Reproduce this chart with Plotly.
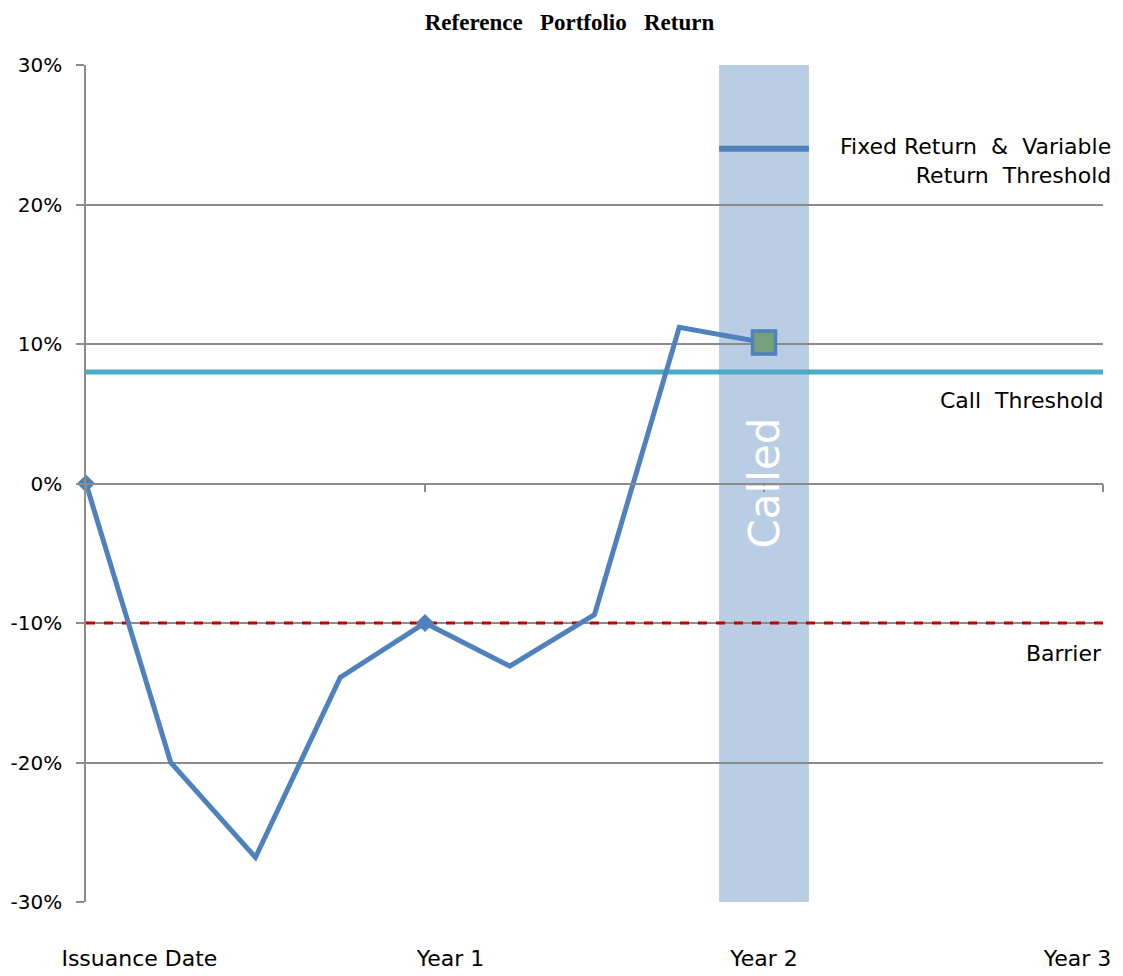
import plotly.graph_objects as go

# ---- data ----
quarters = [0, 1, 2, 3, 4, 5, 6, 7, 8]
portfolio_return = [0.0, -20.0, -26.8, -13.9, -10.0, -13.1, -9.4, 11.2, 10.1]
x_tick_vals = [0, 4, 8, 12]
x_label_pos = [0.63, 4.3, 8.0, 11.7]
x_tick_text = ["Issuance Date", "Year 1", "Year 2", "Year 3"]
y_tick_vals = [-30, -20, -10, 0, 10, 20, 30]
y_tick_text = ["-30%", "-20%", "-10%", "0%", "10%", "20%", "30%"]
call_threshold = 8.0
barrier = -10.0
fixed_return = 24.0
called_band = [7.47, 8.53]
x_range = [0, 12]
y_range = [-30, 30]

FONT = "DejaVu Sans"
FS = 22
GRID = "#8c8c8c"
BLUE = "#4f81bd"

fig = go.Figure()

# called band
fig.add_shape(type="rect", xref="x", yref="y",
              x0=called_band[0], x1=called_band[1], y0=y_range[0], y1=y_range[1],
              fillcolor="#b9cde5", line_width=0, layer="below")

# barrier (dashed red)
fig.add_trace(go.Scatter(x=x_range, y=[barrier, barrier], mode="lines",
                         line=dict(color="#c00000", width=3, dash="dash"),
                         hoverinfo="skip", showlegend=False))
# call threshold
fig.add_trace(go.Scatter(x=x_range, y=[call_threshold, call_threshold], mode="lines",
                         line=dict(color="#4bacc6", width=5),
                         hoverinfo="skip", showlegend=False))
# fixed return line
fig.add_trace(go.Scatter(x=called_band, y=[fixed_return, fixed_return], mode="lines",
                         line=dict(color=BLUE, width=6),
                         hoverinfo="skip", showlegend=False))

# portfolio line
fig.add_trace(go.Scatter(x=quarters, y=portfolio_return, mode="lines",
                         line=dict(color=BLUE, width=5),
                         showlegend=False))
# diamond markers at issuance and year 1
fig.add_trace(go.Scatter(x=[quarters[0], quarters[4]],
                         y=[portfolio_return[0], portfolio_return[4]],
                         mode="markers",
                         marker=dict(symbol="diamond", size=14, color=BLUE),
                         showlegend=False, cliponaxis=False))
# called marker
fig.add_trace(go.Scatter(x=[quarters[-1]], y=[portfolio_return[-1]], mode="markers",
                         marker=dict(symbol="square", size=23, color="#76a07c",
                                     line=dict(color=BLUE, width=3.5)),
                         showlegend=False))

# zero axis line with tick marks via overlay axis
fig.add_trace(go.Scatter(x=[None], y=[None], xaxis="x2", yaxis="y",
                         showlegend=False, hoverinfo="skip"))

fig.update_layout(
    width=1123, height=976,
    paper_bgcolor="white", plot_bgcolor="white",
    margin=dict(l=78, r=28, t=57, b=82, autoexpand=False),
    title=dict(text="<b>Reference&nbsp;&nbsp; Portfolio&nbsp;&nbsp; Return</b>", x=0.5,
               xanchor="center", y=0.986, yanchor="middle",
               font=dict(family="Liberation Serif", size=23, color="black")),
    font=dict(family=FONT, size=FS, color="black"),
    xaxis=dict(range=x_range, tickvals=x_label_pos, ticktext=x_tick_text,
               showgrid=False, zeroline=False, showline=False, ticks="",
               ticklabelstandoff=41, tickfont=dict(size=FS), automargin=False),
    xaxis2=dict(overlaying="x", anchor="free", position=0.5, range=x_range,
                showline=True, linecolor=GRID, linewidth=1.5,
                ticks="outside", ticklen=8, tickwidth=1.5, tickcolor=GRID,
                tickvals=x_tick_vals, showticklabels=False, showgrid=False,
                zeroline=False, side="bottom", automargin=False),
    yaxis=dict(range=y_range, tickvals=y_tick_vals, ticktext=y_tick_text,
               showgrid=True, gridcolor=GRID, gridwidth=1.5, zeroline=False,
               showline=True, linecolor=GRID, linewidth=1.5,
               ticks="outside", ticklen=8, tickwidth=1.5, tickcolor=GRID,
               ticklabelstandoff=10, tickfont=dict(size=20), automargin=False),
)

# annotations
fig.add_annotation(x=1.0098, xref="paper", y=fixed_return, yref="y",
                   text="Fixed Return&nbsp; &amp;&nbsp; Variable<br>Return&nbsp; Threshold",
                   showarrow=False, xanchor="right", yanchor="middle", align="right",
                   font=dict(family=FONT, size=FS), yshift=-12)
fig.add_annotation(x=1.002, xref="paper", y=call_threshold, yref="y",
                   text="Call&nbsp; Threshold", showarrow=False,
                   xanchor="right", yanchor="middle", yshift=-29,
                   font=dict(family=FONT, size=FS))
fig.add_annotation(x=1.001, xref="paper", y=barrier, yref="y",
                   text="Barrier", showarrow=False,
                   xanchor="right", yanchor="middle", yshift=-30,
                   font=dict(family=FONT, size=FS))
fig.add_annotation(x=8.0, xref="x", y=0, yref="y", text="Called",
                   showarrow=False, textangle=-90,
                   font=dict(family=FONT, size=42, color="white"))

fig.write_html("out.html")
